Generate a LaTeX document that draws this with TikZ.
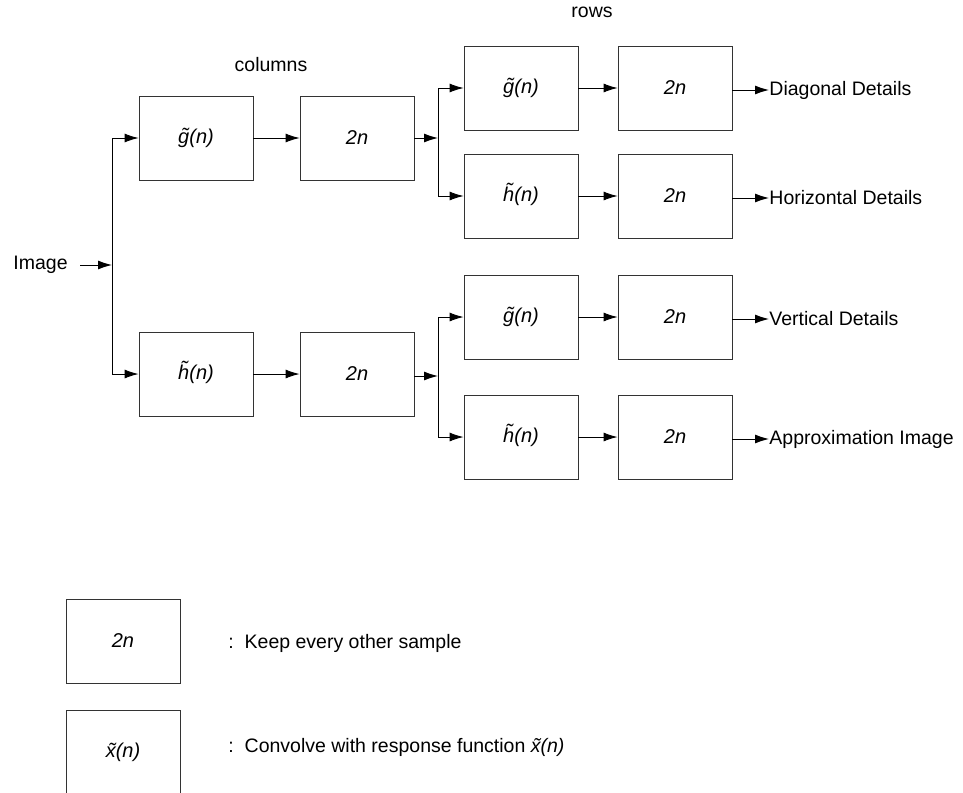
\documentclass[tikz,border=0pt]{standalone}
\usepackage{fontspec}
\setmainfont{Liberation Sans}
\usetikzlibrary{arrows.meta,positioning}
% tilde over a letter
\newcommand\tl[2][0.12em]{\setbox0\hbox{#2}\ooalign{\copy0\cr\hidewidth\raisebox{\dimexpr\ht0-1ex\relax}{\kern#1\char"02DC}\hidewidth}}

\begin{document}
\begin{tikzpicture}
[
  x=1pt, y=-1pt,
  line width=0.9pt,
  every node/.style={font=\fontsize{19.5}{23}\selectfont},
  box/.style={draw=black!80, line width=0.9pt, minimum width=114pt, minimum height=84pt, inner sep=0pt, font=\fontsize{20}{24}\selectfont\itshape},
  txt/.style={anchor=west, inner sep=0pt},
  arr/.style={-{Latex[length=14pt,width=9pt]}},
  every edge/.style={draw, arr}
]
\useasboundingbox (0,0) rectangle (963,792);
\clip (0,0) rectangle (963,792);

% column filters
\node[box] (g1) at (196,138) {\tl{g}(n)};
\node[box] (d1) at (357,138) {2n};
\node[box] (h1) at (196,374) {\tl[0.05em]{h}(n)};
\node[box] (d2) at (357,374) {2n};

% row filters
\node[box] (g2) at (521,88) {\tl{g}(n)};
\node[box] (d3) at (675,88) {2n};
\node[box] (h2) at (521,196) {\tl[0.05em]{h}(n)};
\node[box] (d4) at (675,196) {2n};
\node[box] (g3) at (521,317) {\tl{g}(n)};
\node[box] (d5) at (675,317) {2n};
\node[box] (h3) at (521,437) {\tl[0.05em]{h}(n)};
\node[box] (d6) at (675,437) {2n};

\node (cols) at (271,65) {columns};
\node (rows) at (592,12) {rows};

\node[txt] (img) at (13,265) {Image};
\coordinate (b1) at (112,265);
\coordinate (b2) at (438,138);
\coordinate (b3) at (438,376);

\node[txt] (o1) at (769,90) {Diagonal Details};
\node[txt] (o2) at (769,198) {Horizontal Details};
\node[txt] (o3) at (769,319) {Vertical Details};
\node[txt] (o4) at (769,439) {Approximation Image};

% branches
\draw[arr] (img.east) ++(12,0) -- (b1);
\draw[arr] (b1) |- (g1.west);
\draw[arr] (b1) |- (h1.west);
\draw[arr] (d1) -- (b2);
\draw[arr] (b2) |- (g2.west);
\draw[arr] (b2) |- (h2.west);
\draw[arr] (d2.east |- b3) -- (b3);
\draw[arr] (b3) |- (g3.west);
\draw[arr] (b3) |- (h3.west);

\draw (g1) edge (d1) (h1) edge (d2);
\draw (g2) edge (d3) (h2) edge (d4);
\draw (g3) edge (d5) (h3) edge (d6);
\draw (d3.east |- o1) edge (o1.west) (d4.east |- o2) edge (o2.west);
\draw (d5.east |- o3) edge (o3.west) (d6.east |- o4) edge (o4.west);

% legend
\node[box] (k1) at (123,641) {2n};
\node[box] (k2) at (123,752) {\tl{x}(n)};
\node[txt] (t1) at (228,643) {:\ \ Keep every other sample};
\node[txt] (t2) at (228,747) {:\ \ Convolve with response function \textit{\tl{x}(n)}};
\end{tikzpicture}
\end{document}
